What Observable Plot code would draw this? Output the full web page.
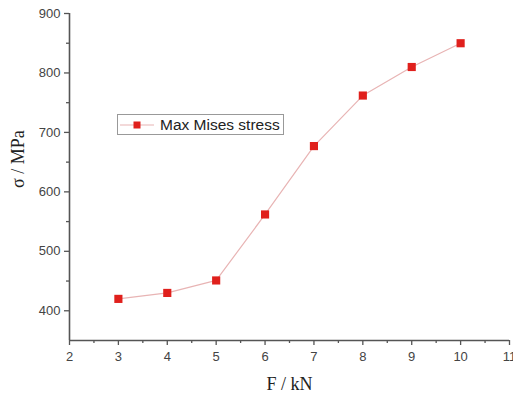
<!DOCTYPE html>
<html>
<head>
<meta charset="utf-8">
<script src="https://cdn.jsdelivr.net/npm/d3@7"></script>
<script src="https://cdn.jsdelivr.net/npm/@observablehq/plot@0.6"></script>
<style>
  html, body { margin: 0; padding: 0; background: #fff; }
  #wrap { position: relative; width: 513px; height: 396px; }
  #legend { position: absolute; left: 117px; top: 114px; width: 167px; height: 21px;
    border: 1px solid #999; box-sizing: border-box; background: #fff;
    font: 15.5px "Liberation Sans", Arial, sans-serif; color: #222; display: flex; align-items: center; }
  #legend svg { flex: none; margin-left: 2px; margin-right: 6px; }
</style>
</head>
<body>
<div id="wrap"></div>
<script>
const force = [3, 4, 5, 6, 7, 8, 9, 10];
const stress = [420, 430, 451, 562, 677, 762, 810, 850];
const xTicks = [2, 3, 4, 5, 6, 7, 8, 9, 10, 11];
const xMinor = [2.5, 3.5, 4.5, 5.5, 6.5, 7.5, 8.5, 9.5, 10.5];
const yTicks = [400, 500, 600, 700, 800, 900];
const yMinor = [450, 550, 650, 750, 850];
const seriesName = "Max Mises stress";
const xLabel = "F / kN";
const yLabel = "σ / MPa";

const data = force.map((f, i) => ({f, s: stress[i]}));
const axisColor = "#555";
const lineColor = "#e8b4b4";
const markColor = "#e0201c";

const chart = Plot.plot({
  width: 513,
  height: 396,
  marginLeft: 69,
  marginRight: 4,
  marginTop: 13,
  marginBottom: 56,
  style: {fontFamily: "'Liberation Sans', Arial, sans-serif", fontSize: "13px", color: "#444", background: "#fff"},
  x: {domain: [2, 11]},
  y: {domain: [350, 900]},
  marks: [
    Plot.ruleY([350], {stroke: axisColor, strokeWidth: 1.6}),
    Plot.ruleX([2], {stroke: axisColor, strokeWidth: 1.6}),
    Plot.axisX({ticks: xTicks, tickSize: 5, tickPadding: 6, stroke: axisColor, strokeWidth: 1.3, label: null, fill: "#444"}),
    Plot.axisX({ticks: xMinor, tickSize: 3, text: null, stroke: axisColor, strokeWidth: 1.3, label: null}),
    Plot.axisY({ticks: yTicks, tickSize: 5, tickPadding: 4, stroke: axisColor, strokeWidth: 1.3, label: null, fill: "#444"}),
    Plot.axisY({ticks: yMinor, tickSize: 3, text: null, stroke: axisColor, strokeWidth: 1.3, label: null}),
    Plot.line(data, {x: "f", y: "s", stroke: lineColor, strokeWidth: 1.2}),
    Plot.dot(data, {x: "f", y: "s", symbol: "square", r: 4.6, fill: markColor, stroke: "none"}),
    Plot.text([xLabel], {frameAnchor: "bottom", dy: 49, text: d => d, fontFamily: "'Liberation Serif', 'Times New Roman', serif", fontSize: 18, fill: "#222"}),
    Plot.text([yLabel], {frameAnchor: "left", dx: -51, dy: 11, rotate: -90, text: d => d, fontFamily: "'Liberation Serif', 'Times New Roman', serif", fontSize: 18, fill: "#222"})
  ]
});
const wrap = document.getElementById("wrap");
wrap.appendChild(chart);

const legend = document.createElement("div");
legend.id = "legend";
legend.innerHTML = `<svg width="34" height="12"><line x1="0" y1="6" x2="34" y2="6" stroke="${lineColor}" stroke-width="1.2"/><rect x="13.5" y="2.5" width="7" height="7" fill="${markColor}"/></svg><span>${seriesName}</span>`;
wrap.appendChild(legend);
</script>
</body>
</html>
